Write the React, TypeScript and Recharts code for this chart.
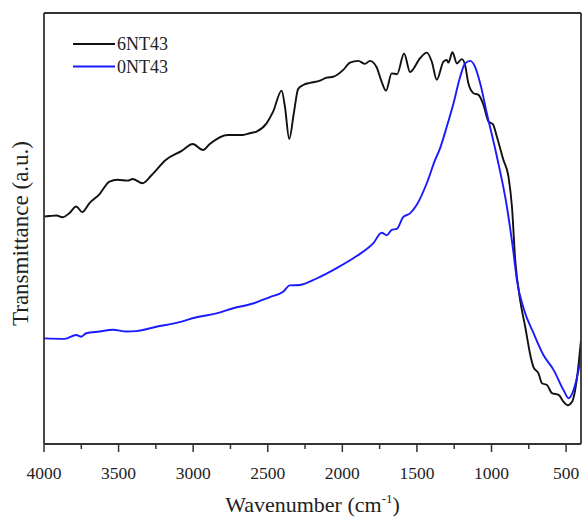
import React from "react";
import { LineChart, Line, XAxis, YAxis, Legend } from "recharts";

const blackWave = [4000, 3963, 3916, 3876, 3829, 3784, 3744, 3695, 3627, 3561, 3507, 3439, 3406, 3339, 3278, 3184, 3077, 3003, 2934, 2889, 2768, 2667, 2620, 2575, 2508, 2464, 2407, 2385, 2356, 2325, 2296, 2262, 2217, 2150, 2105, 2061, 1994, 1949, 1893, 1848, 1815, 1770, 1741, 1707, 1669, 1633, 1586, 1546, 1479, 1434, 1400, 1367, 1322, 1300, 1289, 1262, 1232, 1199, 1177, 1155, 1121, 1087, 1054, 1020, 991, 964, 920, 886, 863, 841, 808, 774, 736, 718, 685, 662, 628, 595, 550, 517, 490, 460, 427, 400];
const blackT = [52.8, 52.9, 53.0, 52.6, 53.6, 55.1, 53.8, 55.9, 58.0, 60.9, 61.3, 61.1, 61.5, 60.5, 62.4, 65.9, 68.0, 69.6, 68.2, 69.6, 71.7, 71.7, 72.1, 72.5, 74.4, 77.1, 82.0, 78.3, 70.8, 76.8, 82.4, 83.3, 83.8, 84.3, 85.0, 85.2, 86.8, 88.5, 88.9, 88.2, 88.9, 87.4, 84.5, 82.0, 86.0, 85.8, 90.6, 86.3, 89.5, 90.8, 88.7, 84.5, 88.7, 89.1, 88.5, 90.9, 88.3, 89.3, 87.9, 83.7, 81.4, 81.0, 78.7, 74.8, 74.2, 71.3, 65.9, 62.0, 55.1, 42.7, 33.4, 27.2, 20.0, 17.8, 16.4, 14.1, 13.7, 11.8, 11.4, 9.8, 9.0, 9.8, 15.3, 24.1];

const blueWave = [4000, 3862, 3784, 3750, 3717, 3627, 3538, 3448, 3381, 3247, 3112, 2978, 2844, 2732, 2598, 2486, 2397, 2352, 2285, 2172, 2038, 1904, 1792, 1736, 1702, 1669, 1635, 1591, 1546, 1501, 1434, 1378, 1345, 1300, 1255, 1210, 1177, 1143, 1110, 1076, 1031, 964, 897, 852, 830, 785, 718, 651, 584, 517, 483, 450, 416, 400];
const blueT = [24.5, 24.4, 25.3, 24.9, 25.7, 26.1, 26.5, 26.1, 26.2, 27.2, 28.1, 29.4, 30.3, 31.5, 32.6, 34.1, 35.3, 36.8, 36.9, 38.4, 40.8, 43.6, 46.6, 49.0, 48.4, 49.7, 49.9, 52.7, 53.5, 55.5, 60.5, 65.9, 68.6, 73.6, 79.0, 85.2, 88.3, 88.9, 87.5, 83.7, 76.7, 66.7, 55.1, 44.2, 38.1, 31.5, 25.7, 20.6, 17.2, 12.5, 10.6, 12.5, 17.2, 20.0];

const xTicks = [4000, 3750, 3500, 3250, 3000, 2750, 2500, 2250, 2000, 1750, 1500, 1250, 1000, 750, 500];
const seriesNames = ["6NT43", "0NT43"];
const seriesColors = ["#111111", "#1a1aff"];

const blackData = blackWave.map((w, i) => ({ w, t: blackT[i] }));
const blueData = blueWave.map((w, i) => ({ w, t: blueT[i] }));

const FONT = "'Liberation Serif', 'Times New Roman', serif";
const AXIS = "#333333";

const XTick = (props: any) => {
  const { x, y, payload } = props;
  const major = payload.value % 500 === 0;
  return (
    <g>
      <line x1={x} x2={x} y1={y} y2={y + (major ? 8 : 5)} stroke={AXIS} strokeWidth={1.5} />
      {major && (
        <text x={x} y={y + 28.5} textAnchor="middle" dominantBaseline="central" fontFamily={FONT} fontSize={17.5} fill="#222">
          {payload.value}
        </text>
      )}
    </g>
  );
};

const XLabel = (props: any) => {
  const { viewBox } = props;
  const cx = viewBox.x + viewBox.width / 2;
  return (
    <text x={cx} y={viewBox.y + 68} textAnchor="middle" fontFamily={FONT} fontSize={22} fill="#222">
      Wavenumber (cm
      <tspan dy={-9} fontSize={13}>-1</tspan>
      <tspan dy={9}>)</tspan>
    </text>
  );
};

const YLabel = (props: any) => {
  const { viewBox } = props;
  const cy = viewBox.y + viewBox.height / 2 + 5;
  const cx = 20;
  return (
    <text
      x={cx}
      y={cy}
      transform={`rotate(-90 ${cx} ${cy})`}
      textAnchor="middle"
      dominantBaseline="central"
      fontFamily={FONT}
      fontSize={23}
      fill="#222"
    >
      Transmittance (a.u.)
    </text>
  );
};

const LegendBox = () => (
  <svg width={160} height={56} style={{ overflow: "visible" }}>
    {seriesNames.map((n, i) => (
      <g key={n}>
        <line x1={0} x2={42} y1={8 + i * 22.5} y2={8 + i * 22.5} stroke={seriesColors[i]} strokeWidth={2} />
        <text x={44} y={8 + i * 22.5} dominantBaseline="central" fontFamily={FONT} fontSize={18} fill="#222">
          {n}
        </text>
      </g>
    ))}
  </svg>
);

export default function App() {
  return (
    <div style={{ position: "absolute", left: 0, top: 0, width: 582, height: 518, background: "#fff" }}>
      <LineChart width={582} height={518} margin={{ top: 12, right: 0, bottom: 14, left: 43 }}>
        <XAxis
          dataKey="w"
          type="number"
          domain={[400, 4000]}
          reversed
          ticks={xTicks}
          interval={0}
          tick={<XTick />}
          tickLine={false}
          tickSize={0}
          tickMargin={0}
          height={60}
          axisLine={{ stroke: AXIS, strokeWidth: 1.8 }}
          allowDataOverflow
          label={<XLabel />}
        />
        <XAxis
          xAxisId="top"
          orientation="top"
          dataKey="w"
          type="number"
          domain={[400, 4000]}
          reversed
          tick={false}
          tickLine={false}
          height={1}
          axisLine={{ stroke: AXIS, strokeWidth: 1.8 }}
        />
        <YAxis
          type="number"
          domain={[0, 100]}
          width={1}
          tick={false}
          tickLine={false}
          axisLine={{ stroke: AXIS, strokeWidth: 1.8 }}
          label={<YLabel />}
        />
        <YAxis
          yAxisId="r"
          orientation="right"
          type="number"
          domain={[0, 100]}
          width={1}
          tick={false}
          tickLine={false}
          axisLine={{ stroke: AXIS, strokeWidth: 1.8 }}
        />
        <Legend
          layout="horizontal"
          verticalAlign="middle"
          align="center"
          content={<LegendBox />}
          wrapperStyle={{ position: "absolute", left: 73, top: 36, width: 160, height: 56 }}
        />
        <Line
          data={blackData}
          dataKey="t"
          name={seriesNames[0]}
          stroke={seriesColors[0]}
          strokeWidth={1.9}
          dot={false}
          type="monotoneX"
          isAnimationActive={false}
        />
        <Line
          data={blueData}
          dataKey="t"
          name={seriesNames[1]}
          stroke={seriesColors[1]}
          strokeWidth={1.9}
          dot={false}
          type="monotoneX"
          isAnimationActive={false}
        />
      </LineChart>
    </div>
  );
}
